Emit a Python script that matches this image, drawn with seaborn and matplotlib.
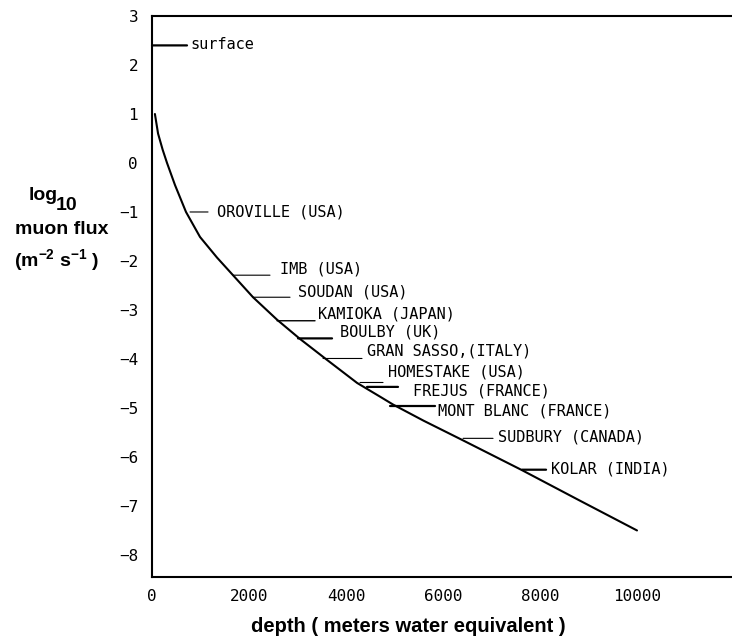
import matplotlib
matplotlib.use("Agg")
import matplotlib.pyplot as plt
import seaborn as sns

# Depth-intensity curve: log10 of the vertical muon flux vs. depth
depth_mwe = [60, 125, 220, 310, 474, 701, 990, 1340, 1670, 2083, 2580, 3050,
             3610, 4230, 4720, 4970, 5600, 6410, 7630, 8800, 10000]
log_flux = [1.0, 0.6, 0.27, 0.0, -0.45, -1.0, -1.51, -1.93, -2.29, -2.74, -3.2, -3.59,
            -4.02, -4.49, -4.78, -4.93, -5.26, -5.66, -6.27, -6.88, -7.5]

# Underground laboratories placed on the curve
sites = ["surface", "OROVILLE (USA)", "IMB (USA)", "SOUDAN (USA)", "KAMIOKA (JAPAN)",
         "BOULBY (UK)", "GRAN SASSO,(ITALY)", "HOMESTAKE (USA)", "FREJUS (FRANCE)",
         "MONT BLANC (FRANCE)", "SUDBURY (CANADA)", "KOLAR (INDIA)"]
site_depth = [0, 784, 1670, 2083, 2578, 3011, 3526, 4289, 4433, 4908, 6413, 7630]
site_flux = [2.4, -1.0, -2.29, -2.74, -3.22, -3.58, -3.99, -4.48, -4.57, -4.96, -5.62, -6.26]

xtick_values = [0, 2000, 4000, 6000, 8000, 10000]
xtick_labels = ["0", "2000", "4000", "6000", "8000", "10000"]
ytick_values = [3, 2, 1, 0, -1, -2, -3, -4, -5, -6, -7, -8]
ytick_labels = ["3", "2", "1", "0", "\u22121", "\u22122", "\u22123", "\u22124",
                "\u22125", "\u22126", "\u22127", "\u22128"]

# Leader line length, label offset (pixels) and leader thickness for each site
leader_len = [35, 18, 37, 37, 38, 34, 39, 23, 31, 45, 30, 24]
label_dx = [38, 27, 47, 45, 41, 42, 44, 28, 46, 48, 35, 29]
label_dy = [1, 0, 6, 5, 7, 6, 7, 10, -4, -5, 1, 1]
leader_lw = [1.6, 0.8, 0.8, 0.8, 1.0, 1.6, 0.8, 0.8, 1.6, 1.6, 0.8, 1.6]

sns.set_style("white")
plt.rcParams["font.family"] = ["DejaVu Sans Mono", "DejaVu Sans"]
plt.rcParams["mathtext.fontset"] = "custom"
plt.rcParams["mathtext.rm"] = "Liberation Sans:bold"
plt.rcParams["mathtext.it"] = "Liberation Sans:bold"
plt.rcParams["mathtext.bf"] = "Liberation Sans:bold"

W, H = 732, 636
fig = plt.figure(figsize=(W / 100, H / 100), dpi=100)
ax = fig.add_axes([152 / W, 1 - 577 / H, 582 / W, 561 / H])

sns.lineplot(x=depth_mwe, y=log_flux, ax=ax, color="black", lw=1.5,
             sort=False, estimator=None)

for name, d, f, L, dx, dy, lw in zip(sites, site_depth, site_flux, leader_len,
                                      label_dx, label_dy, leader_lw):
    ax.annotate("", xy=(d, f), xytext=(L, 0), textcoords="offset pixels",
                arrowprops=dict(arrowstyle="-", lw=lw, color="black",
                                shrinkA=0, shrinkB=0), annotation_clip=False)
    ax.annotate(name, xy=(d, f), xytext=(dx, dy), textcoords="offset pixels",
                ha="left", va="center", fontsize=11, color="black",
                family="DejaVu Sans Mono")

ax.set_xlim(0, 12000)
ax.set_ylim(-8.45, 3)
ax.set_xticks(xtick_values, labels=xtick_labels)
ax.set_yticks(ytick_values, labels=ytick_labels)
ax.tick_params(axis="x", direction="in", length=16, width=1.5, pad=8.5,
               labelsize=11.5, colors="black")
ax.tick_params(axis="y", direction="in", length=18, width=1.5, pad=10,
               labelsize=11.5, colors="black")
ax.set_xlabel("")
ax.set_ylabel("")

for side in ("left", "top", "bottom"):
    ax.spines[side].set_visible(True)
    ax.spines[side].set_color("black")
    ax.spines[side].set_linewidth(1.5)
ax.spines["right"].set_visible(False)
ax.grid(False)


def fx(px):
    return px / W


def fy(py):
    return 1 - py / H


bold = dict(family="Liberation Sans", fontweight="bold", color="black",
            fontsize=14, va="baseline", ha="left")
fig.text(fx(29), fy(200), "log", **bold)
fig.text(fx(56), fy(210), "10", **bold)
fig.text(fx(15), fy(234), "muon flux", **bold)
fig.text(fx(14), fy(266), r"(m$^{-2}$ s$^{-1}$ )", **bold)

fig.text(fx(408), fy(632), "depth ( meters water equivalent )",
         family="Liberation Sans", fontweight="bold", fontsize=14.5,
         color="black", ha="center", va="baseline")

fig.savefig("out.png", dpi=100)
